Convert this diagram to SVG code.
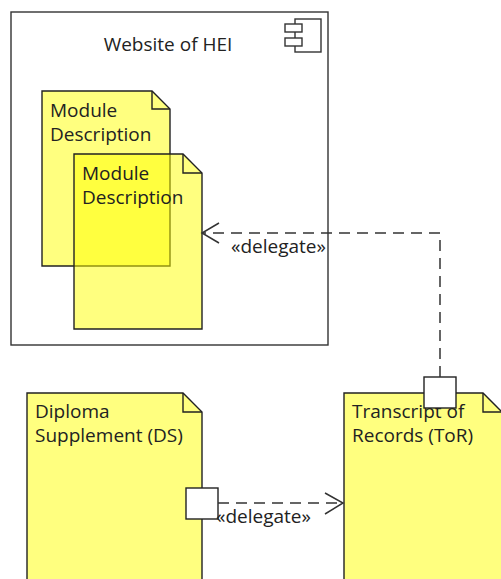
<svg xmlns="http://www.w3.org/2000/svg" width="501" height="579" viewBox="0 0 501 579">
<style>
text{font-family:"Open Sans","Noto Sans","DejaVu Sans",sans-serif;font-size:19px;fill:#222}
.box{fill:#fff;stroke:#333;stroke-width:1.4}
.doc{fill:#ffff00;fill-opacity:0.5;stroke:#222;stroke-width:1.4;stroke-linejoin:miter}
.fold{fill:none;stroke:#222;stroke-width:1.4}
.port{fill:#fff;stroke:#222;stroke-width:1.4}
.dash{fill:none;stroke:#333;stroke-width:1.5;stroke-dasharray:11 7}
.head{fill:none;stroke:#333;stroke-width:1.5}
</style>
<rect width="501" height="579" fill="#fff"/>
<g id="website">
<rect class="box" x="11" y="12" width="317" height="333"/>
<rect class="box" x="295" y="19" width="26" height="33"/>
<rect class="box" x="285" y="24" width="17" height="8"/>
<rect class="box" x="285" y="38" width="17" height="8"/>
<text x="168" y="51" text-anchor="middle">Website of HEI</text>
</g>
<g id="module1">
<path class="doc" d="M42,91 H152 L170,109 V266 H42 Z"/>
<path class="fold" d="M152,91 V109 H170"/>
<text x="50" y="117">Module</text>
<text x="50" y="141">Description</text>
</g>
<g id="module2">
<path class="doc" d="M74,154 H183 L202,173 V329 H74 Z"/>
<path class="fold" d="M183,154 V173 H202"/>
<text x="82" y="180">Module</text>
<text x="82" y="204">Description</text>
</g>
<g id="ds">
<path class="doc" d="M27,393 H183 L202,412 V590 H27 Z"/>
<path class="fold" d="M183,393 V412 H202"/>
<text x="35" y="418">Diploma</text>
<text x="35" y="442">Supplement (DS)</text>
<rect class="port" x="186" y="488" width="32" height="31"/>
</g>
<g id="tor">
<path class="doc" d="M344,393 H483 L502,412 V590 H344 Z"/>
<path class="fold" d="M483,393 V412 H502"/>
<text x="352" y="418">Transcript of</text>
<text x="352" y="442">Records (ToR)</text>
<rect class="port" x="424" y="377" width="32" height="31"/>
</g>
<g id="connectors">
<path class="dash" d="M440,377 V233 H203"/>
<polyline class="head" points="219,223 202,233 219,243"/>
<text x="231" y="253">«delegate»</text>
<path class="dash" d="M218,503 H343"/>
<polyline class="head" points="325,493 343,503 325,514"/>
<text x="216" y="523">«delegate»</text>
</g>
</svg>
